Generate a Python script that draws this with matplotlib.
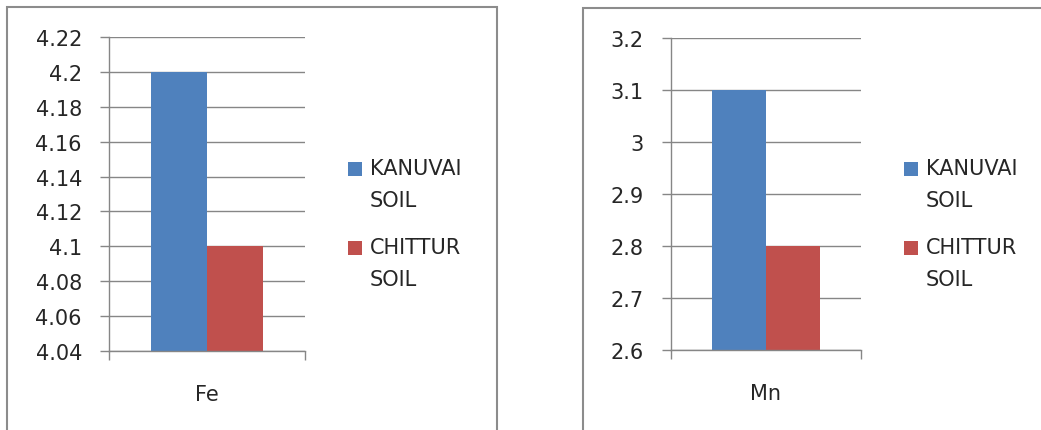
import matplotlib
matplotlib.use('Agg')
import matplotlib.pyplot as plt
from matplotlib.patches import Rectangle
from matplotlib.legend_handler import HandlerPatch
from matplotlib.ticker import MultipleLocator, FuncFormatter, FixedLocator

# micronutrient content of the two soils
elements = ['Fe', 'Mn']
soil_names = ['KANUVAI\nSOIL', 'CHITTUR\nSOIL']
kanuvai = [4.2, 3.1]
chittur = [4.1, 2.8]
y_limits = [(4.04, 4.22), (2.6, 3.2)]
y_steps = [0.02, 0.1]

bar_colors = ['#4F81BD', '#C0504D']
grey = '#868686'
text_col = '#262626'

W, H = 1041, 431
plt.rcParams['font.family'] = 'DejaVu Sans'
fig = plt.figure(figsize=(W / 100, H / 100), dpi=100)


def box(x0, y0, x1, y1):
    # pixel box (top-left origin) -> figure fraction rect
    return [x0 / W, 1 - y1 / H, (x1 - x0) / W, (y1 - y0) / H]


class TopSquare(HandlerPatch):
    # small square lined up with the first line of a two-line label
    def create_artists(self, legend, orig_handle, xdescent, ydescent,
                       width, height, fontsize, trans):
        side = 10.0
        p = Rectangle((-xdescent, -ydescent + 11.8), side, side,
                      facecolor=orig_handle.get_facecolor(),
                      edgecolor='none', transform=trans)
        return [p]


panels = [
    dict(frame=(7, 8, 497), axes=(109, 38, 305, 352), legend=(348, 159)),
    dict(frame=(583, 9, 1060), axes=(671, 39, 861, 351), legend=(904, 159)),
]

w = 0.285
for i, p in enumerate(panels):
    fx0, fy0, fx1 = p['frame']
    fig.add_artist(Rectangle((fx0 / W, -0.1), (fx1 - fx0) / W, 1.1 - fy0 / H,
                             transform=fig.transFigure, fill=False,
                             edgecolor='#8c8c8c', linewidth=1.5))

    ax = fig.add_axes(box(*p['axes']))
    b1 = ax.bar(0.5 - w, kanuvai[i], w, align='edge', color=bar_colors[0],
                zorder=2)
    b2 = ax.bar(0.5, chittur[i], w, align='edge', color=bar_colors[1],
                zorder=2)

    ax.set_xlim(0, 1)
    ax.set_ylim(*y_limits[i])
    ax.yaxis.set_major_locator(MultipleLocator(y_steps[i]))
    ax.yaxis.set_major_formatter(FuncFormatter(lambda v, pos: f'{round(v, 2):g}'))
    ax.grid(axis='y', color=grey, linewidth=1)
    ax.set_axisbelow(True)

    for s in ['top', 'right']:
        ax.spines[s].set_visible(False)
    for s in ['left', 'bottom']:
        ax.spines[s].set_color(grey)
        ax.spines[s].set_linewidth(1)

    ax.tick_params(axis='y', direction='out', length=6.5, width=1, color=grey,
                   labelsize=15, labelcolor=text_col, pad=13)
    ax.xaxis.set_major_locator(FixedLocator([0, 1]))
    ax.xaxis.set_minor_locator(FixedLocator([0.5]))
    ax.set_xticklabels([])
    ax.set_xticklabels([elements[i]], minor=True)
    ax.tick_params(axis='x', which='major', direction='out', length=6.5,
                   width=1, color=grey)
    ax.tick_params(axis='x', which='minor', length=0, labelsize=15,
                   labelcolor=text_col, pad=24)

    lx, ly = p['legend']
    leg = ax.legend([b1.patches[0], b2.patches[0]], soil_names,
                    loc='upper left', bbox_to_anchor=(lx / W, 1 - ly / H),
                    bbox_transform=fig.transFigure, frameon=False,
                    fontsize=15, borderpad=0, borderaxespad=0,
                    handlelength=0.667, handletextpad=0.38,
                    labelspacing=1.3,
                    handler_map={Rectangle: TopSquare()})
    for t in leg.get_texts():
        t.set_color(text_col)
        t.set_linespacing(1.76)

fig.savefig('out.png', dpi=100)
